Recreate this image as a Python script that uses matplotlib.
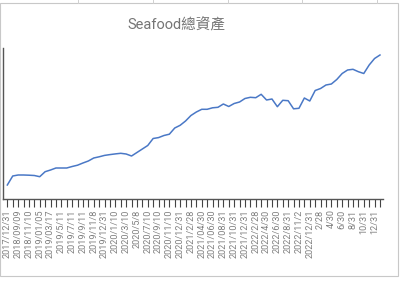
import numpy as np
import matplotlib.pyplot as plt
from matplotlib.patches import Rectangle
from matplotlib.lines import Line2D

plt.rcParams['font.family'] = ['Roboto', 'Noto Sans CJK TC', 'DejaVu Sans']

title = 'Seafood總資產'

# one label on every second point
tick_labels = ['2017/12/31', '2018/09/09', '2018/11/10', '2019/01/05', '2019/03/17',
               '2019/5/11', '2019/7/11', '2019/9/11', '2019/11/8', '2019/12/31',
               '2020/1/10', '2020/3/10', '2020/5/8', '2020/7/10', '2020/9/10',
               '2020/11/10', '2020/12/31', '2021/2/28', '2021/04/30', '2021/06/30',
               '2021/08/31', '2021/10/31', '2021/12/31', '2022/2/28', '2022/4/30',
               '2022/6/30', '2022/8/31', '2022/11/2', '2022/12/31', '2/28',
               '4/30', '6/30', '8/31', '10/31', '12/31']

# total assets (relative units)
values = [14, 23, 24, 24, 23.8, 23.5, 22.3, 27.3, 29, 31,
          31, 31, 32.5, 33.8, 36, 38, 41, 42.2, 43.6, 44.4,
          45.1, 45.7, 45, 43, 46.5, 50, 53.5, 60.5, 61.4, 63.5,
          64.8, 71, 73.7, 78, 83.5, 87, 89.7, 89.7, 91.2, 91.7,
          95, 92.5, 95.5, 97, 100.5, 101.7, 101.3, 104.7, 99, 100,
          92.3, 98.7, 98.3, 90.2, 90.7, 101, 98, 108.5, 110.5, 114,
          115, 119.5, 125.5, 129, 129.7, 127.3, 125.5, 134, 140.5, 144]

x = np.arange(len(values))

fig = plt.figure(figsize=(4.0, 2.82), dpi=100)

# spreadsheet cell lines behind the chart
for xp in [78, 153, 228, 302, 377]:
    fig.add_artist(Line2D([xp / 400, xp / 400], [1, 1 - 3 / 282], color='#d0d0d0', lw=0.7))
fig.add_artist(Rectangle((0, 0.02), 397.5 / 400, 1 - 3 / 282 - 0.02, transform=fig.transFigure,
                         fill=False, edgecolor='#c8c8c8', lw=0.8))

ax = fig.add_axes([3 / 400, 1 - 199 / 282, 380 / 400, 151 / 282])
ax.plot(x, values, color='#4a78c6', lw=1.1)

ax.set_xlim(-0.8, 69.56)
ax.set_ylim(0, 151)
ax.set_xticks(x)
ax.set_xticklabels([tick_labels[i // 2] if i % 2 == 0 else '' for i in x],
                   rotation=90, fontsize=6.6, color='#808080')
ax.tick_params(axis='x', length=6, width=0.8, color='#444444', pad=1.5)
ax.set_yticks([])
for s in ['top', 'right']:
    ax.spines[s].set_visible(False)
for s in ['left', 'bottom']:
    ax.spines[s].set_color('#555555')
    ax.spines[s].set_linewidth(1.0)

fig.text(176 / 400, 1 - 25 / 282, title, ha='center', va='center',
         fontsize=10.5, color='#757575')

fig.savefig('out.png', dpi=100)
